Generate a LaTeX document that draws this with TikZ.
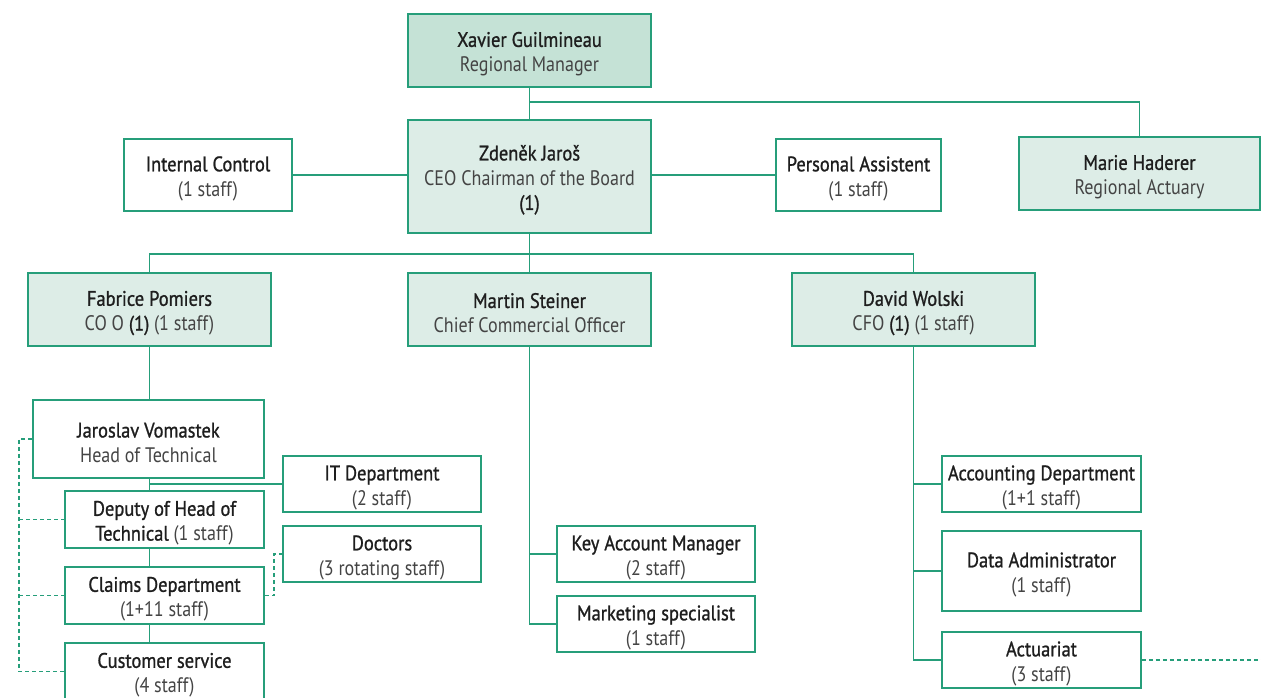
\documentclass[tikz,border=0pt]{standalone}
\usepackage{fontspec}
\setmainfont[FakeStretch=0.86]{PT Sans}
\newfontfamily\semib[FakeStretch=0.88,FakeBold=1]{PT Sans}
\definecolor{gline}{RGB}{38,158,122}
\definecolor{fdark}{RGB}{197,226,214}
\definecolor{flight}{RGB}{221,237,231}
\definecolor{tname}{RGB}{30,30,30}
\definecolor{tsub}{RGB}{68,68,68}
\newcommand{\nm}[1]{{\semib\color{tname}#1}}
\newcommand{\sbt}[1]{{\color{tsub}#1}}
\begin{document}
\begin{tikzpicture}[x=1pt,y=-1pt,
  box/.style={draw=gline,line width=1.6pt,inner sep=0pt,align=center,font=\fontsize{21}{24.8}\selectfont},
  dk/.style={box,fill=fdark},
  lt/.style={box,fill=flight},
  wt/.style={box,fill=white},
  conn/.style={draw=gline,line width=1.5pt},
  dconn/.style={draw=gline,line width=1.4pt,dash pattern=on 4pt off 3pt}]
\useasboundingbox (0,0) rectangle (1261,697);
\clip (0,0) rectangle (1261,697);
\newcommand{\up}{\rule{0pt}{22pt}}
% nodes
\node[dk,minimum width=243,minimum height=73] (xav) at (529.5,50.5) {\up\nm{Xavier Guilmineau}\\\sbt{Regional Manager}};
\node[lt,minimum width=243,minimum height=113] (zde) at (529.5,176.5) {\up\nm{Zdeněk Jaroš}\\\sbt{CEO Chairman of the Board}\\\nm{(1)}};
\node[wt,minimum width=168,minimum height=72] (ic) at (208,175) {\up\nm{Internal Control}\\\sbt{(1 staff)}};
\node[wt,minimum width=165,minimum height=72] (pa) at (858.5,175) {\up\nm{Personal Assistent}\\\sbt{(1 staff)}};
\node[lt,minimum width=241,minimum height=73] (mh) at (1139.5,173.5) {\up\nm{Marie Haderer}\\\sbt{Regional Actuary}};
\node[lt,minimum width=243,minimum height=73] (fp) at (149.5,309.5) {\up\nm{Fabrice Pomiers}\\\sbt{CO O} \nm{(1)} \sbt{(1 staff)}};
\node[lt,minimum width=243,minimum height=73] (ms) at (529.5,309.5) {\up\nm{Martin Steiner}\\\sbt{Chief Commercial Officer}};
\node[lt,minimum width=243,minimum height=73] (dw) at (913.5,309.5) {\up\nm{David Wolski}\\\sbt{CFO} \nm{(1)} \sbt{(1 staff)}};
\node[wt,minimum width=231,minimum height=78] (jv) at (148.5,439) {\up\nm{Jaroslav Vomastek}\\\sbt{Head of Technical}};
\node[wt,minimum width=199,minimum height=57] (dep) at (164.5,519.5) {\up\nm{Deputy of Head of}\\\nm{Technical} \sbt{(1 staff)}};
\node[wt,minimum width=199,minimum height=57] (cl) at (164.5,595.5) {\up\nm{Claims Department}\\\sbt{(1+11 staff)}};
\node[wt,minimum width=199,minimum height=57] (cs) at (164.5,671.5) {\up\nm{Customer service}\\\sbt{(4 staff)}};
\node[wt,minimum width=198,minimum height=56] (it) at (382,484) {\up\nm{IT Department}\\\sbt{(2 staff)}};
\node[wt,minimum width=198,minimum height=56] (doc) at (382,554) {\up\nm{Doctors}\\\sbt{(3 rotating staff)}};
\node[wt,minimum width=198,minimum height=56] (kam) at (656,554) {\up\nm{Key Account Manager}\\\sbt{(2 staff)}};
\node[wt,minimum width=198,minimum height=56] (mkt) at (656,624) {\up\nm{Marketing specialist}\\\sbt{(1 staff)}};
\node[wt,minimum width=199,minimum height=56] (acc) at (1041.5,484) {\up\nm{Accounting Department}\\\sbt{(1+1 staff)}};
\node[wt,minimum width=199,minimum height=80] (da) at (1041.5,571) {\up\nm{Data Administrator}\\\sbt{(1 staff)}};
\node[wt,minimum width=199,minimum height=56] (act) at (1041.5,660) {\up\nm{Actuariat}\\\sbt{(3 staff)}};
\coordinate (edge) at (1261,660);
% connectors
\draw[conn] (xav.south) -- (zde.north);
\draw[conn] (xav.south |- 0,102) -| (mh.north);
\draw[conn] (ic.east) -- (zde.west |- ic.east);
\draw[conn] (zde.east |- pa.west) -- (pa.west);
\draw[conn] (zde.south) -- (529.5,254);
\draw[conn] (fp.north) |- (529.5,254) -| (dw.north);
\draw[conn] (529.5,254) -- (ms.north);
\draw[conn] (fp.south) -- (fp.south |- jv.north);
\draw[conn] (fp.south |- jv.south) -- (fp.south |- dep.north);
\draw[conn] (fp.south |- it.west) -- (it.west);
\draw[conn] (fp.south |- dep.south) -- (fp.south |- cl.north);
\draw[conn] (fp.south |- cl.south) -- (fp.south |- cs.north);
\draw[dconn] (cl.east) -| (274,554) -- (doc.west);
\draw[dconn] (jv.west) -| (19,671.5) -- (cs.west);
\draw[dconn] (19,519.5) -- (dep.west);
\draw[dconn] (19,595.5) -- (cl.west);
\draw[conn] (ms.south) |- (mkt.west);
\draw[conn] (ms.south |- kam.west) -- (kam.west);
\draw[conn] (dw.south) |- (act.west);
\draw[conn] (dw.south |- acc.west) -- (acc.west);
\draw[conn] (dw.south |- da.west) -- (da.west);
\draw[dconn] (act.east) -- (edge);
\end{tikzpicture}
\end{document}
